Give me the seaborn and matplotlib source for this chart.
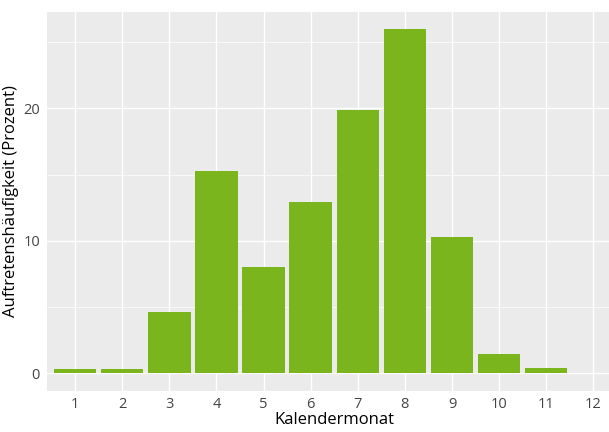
import matplotlib
matplotlib.use("Agg")
import matplotlib.pyplot as plt
import seaborn as sns
import pandas as pd
from matplotlib.ticker import MultipleLocator

months = ["1", "2", "3", "4", "5", "6", "7", "8", "9", "10", "11", "12"]
percent = [0.3, 0.35, 4.6, 15.3, 8.0, 12.9, 19.9, 26.0, 10.3, 1.45, 0.42, 0.0]

df = pd.DataFrame({"Kalendermonat": months, "Prozent": percent})

sns.set_theme(style="darkgrid", rc={
    "axes.facecolor": "#EBEBEB",
    "grid.color": "white",
    "axes.edgecolor": "none",
})
plt.rcParams["font.family"] = ["Open Sans", "DejaVu Sans"]

fig = plt.figure(figsize=(6.09, 4.32), dpi=100)
ax = fig.add_axes([0.077, 0.096, 0.9436, 0.877])

sns.barplot(data=df, x="Kalendermonat", y="Prozent", color="#7AB51D",
            saturation=1, width=0.9, linewidth=0, ax=ax)

ax.set_xlim(-0.6, 11.6)
ax.set_ylim(-1.3, 27.3)
ax.yaxis.set_major_locator(MultipleLocator(10))
ax.yaxis.set_minor_locator(MultipleLocator(5))
ax.grid(which="major", color="white", linewidth=1.0)
ax.grid(which="minor", axis="y", color="white", linewidth=0.5)
ax.set_axisbelow(True)
for sp in ax.spines.values():
    sp.set_visible(False)

ax.tick_params(axis="both", which="major", length=3, width=0.8, color="#444444",
               labelsize=10.5, labelcolor="#444444", pad=2)
ax.tick_params(axis="y", which="minor", length=0)
ax.set_xlabel("Kalendermonat", fontsize=12, color="black", labelpad=0)
ax.set_ylabel("Auftretenshäufigkeit (Prozent)", fontsize=12, color="black", labelpad=3)

fig.savefig("out.png", dpi=100)
